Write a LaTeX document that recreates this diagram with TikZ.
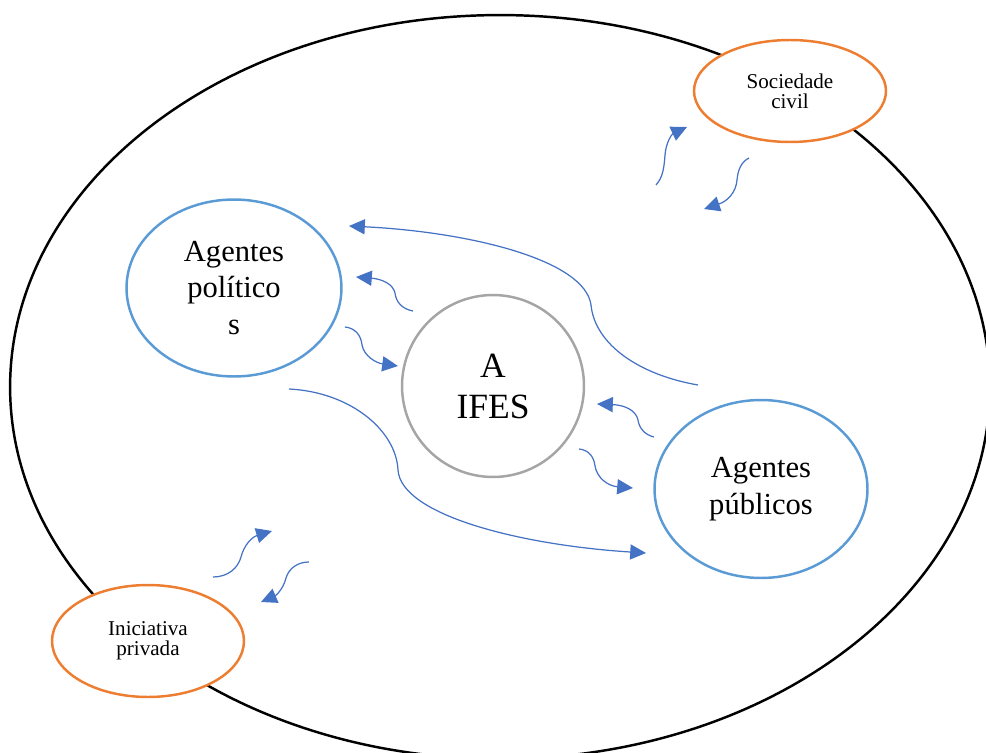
\documentclass[tikz,border=0pt]{standalone}
\usepackage{fontspec}
\setmainfont{Liberation Serif}
\usetikzlibrary{shapes.geometric,arrows.meta}

\definecolor{seta}{HTML}{4472C4}
\definecolor{agente}{HTML}{5B9BD5}
\definecolor{externo}{HTML}{ED7D31}
\definecolor{cinza}{HTML}{A5A5A5}

\tikzset{
	agentes/.style={ellipse, draw=agente, line width=1.4pt, fill=white, align=center, inner sep=0pt,
		minimum width=4.3cm, minimum height=3.54cm, font=\fontsize{17.4}{21}\selectfont},
	externos/.style={ellipse, draw=externo, line width=1.4pt, fill=white, align=center, inner sep=0pt,
		minimum width=3.84cm, font=\fontsize{12}{11.5}\selectfont},
	fluxo/.style={seta, line width=0.7pt, -{Triangle[length=9pt,width=8.6pt]}}
}

\begin{document}
\begin{tikzpicture}[x=0.02cm, y=-0.02cm]

	\useasboundingbox (0,0) rectangle (986,753);
	\clip (0,0) rectangle (986,753);

	% o ambiente
	\node (meio) at (500,387) [ellipse, draw, line width=1.4pt, minimum width=19.6cm, minimum height=14.88cm] {};

	% os atores
	\node (politicos) at (234,288) [agentes] {Agentes\\ político\\ s};
	\node (publicos) at (761,489) [agentes, minimum width=4.26cm, minimum height=3.56cm] {Agentes\\ públicos};
	\node (ifes) at (493,386) [circle, draw=cinza, line width=1.4pt, fill=white, align=center, inner sep=0pt,
		minimum size=3.64cm, font=\fontsize{20.2}{23.3}\selectfont] {A\\ IFES};
	\node (sociedade) at (790,91) [externos, minimum height=2.04cm] {Sociedade\\ civil};
	\node (iniciativa) at (148,641) [externos, minimum height=2.24cm] {Iniciativa\\ privada};

	% pontas soltas das setas
	\coordinate (sc_a) at (656,185);
	\coordinate (sc_b) at (687,127);
	\coordinate (sc_c) at (749,158);
	\coordinate (sc_d) at (704,209);
	\coordinate (ip_a) at (213,577);
	\coordinate (ip_b) at (272,531);
	\coordinate (ip_c) at (309,562);
	\coordinate (ip_d) at (261,602);
	\coordinate (pol_a) at (413,311);
	\coordinate (pol_b) at (356,277);
	\coordinate (pol_c) at (345,327);
	\coordinate (pol_d) at (398,366);
	\coordinate (pub_a) at (654,437);
	\coordinate (pub_b) at (597,404);
	\coordinate (pub_c) at (579,449);
	\coordinate (pub_d) at (633,488);
	\coordinate (longo_a) at (698,385);
	\coordinate (longo_b) at (349,226);
	\coordinate (longo_c) at (289,389);
	\coordinate (longo_d) at (646,553);

	% sociedade civil
	\draw[fluxo] (sc_a) .. controls (663,177) and (664,168) .. (665,155) .. controls (666,142) and (672,134) .. (sc_b);
	\draw[fluxo] (sc_c) .. controls (741,162) and (738,170) .. (737,180) .. controls (736,192) and (728,201) .. (sc_d);

	% iniciativa privada
	\draw[fluxo] (ip_a) .. controls (228,577) and (238,568) .. (241,557) .. controls (244,545) and (252,537) .. (ip_b);
	\draw[fluxo] (ip_c) .. controls (298,562) and (289,568) .. (286,578) .. controls (283,590) and (275,596) .. (ip_d);

	% ifes e agentes
	\draw[fluxo] (pol_a) .. controls (402,309) and (396,302) .. (395,293) .. controls (393,284) and (382,279) .. (pol_b);
	\draw[fluxo] (pol_c) .. controls (355,328) and (361,335) .. (362,345) .. controls (364,356) and (376,363) .. (pol_d);
	\draw[fluxo] (pub_a) .. controls (645,435) and (639,428) .. (638,420) .. controls (636,410) and (624,405) .. (pub_b);
	\draw[fluxo] (pub_c) .. controls (589,450) and (594,457) .. (595,466) .. controls (597,478) and (608,486) .. (pub_d);

	% entre agentes
	\draw[fluxo] (longo_a) .. controls (640,375) and (595,345) .. (591,305) .. controls (585,260) and (470,232) .. (longo_b);
	\draw[fluxo] (longo_c) .. controls (350,392) and (396,430) .. (398,470) .. controls (401,515) and (520,545) .. (longo_d);

\end{tikzpicture}
\end{document}
